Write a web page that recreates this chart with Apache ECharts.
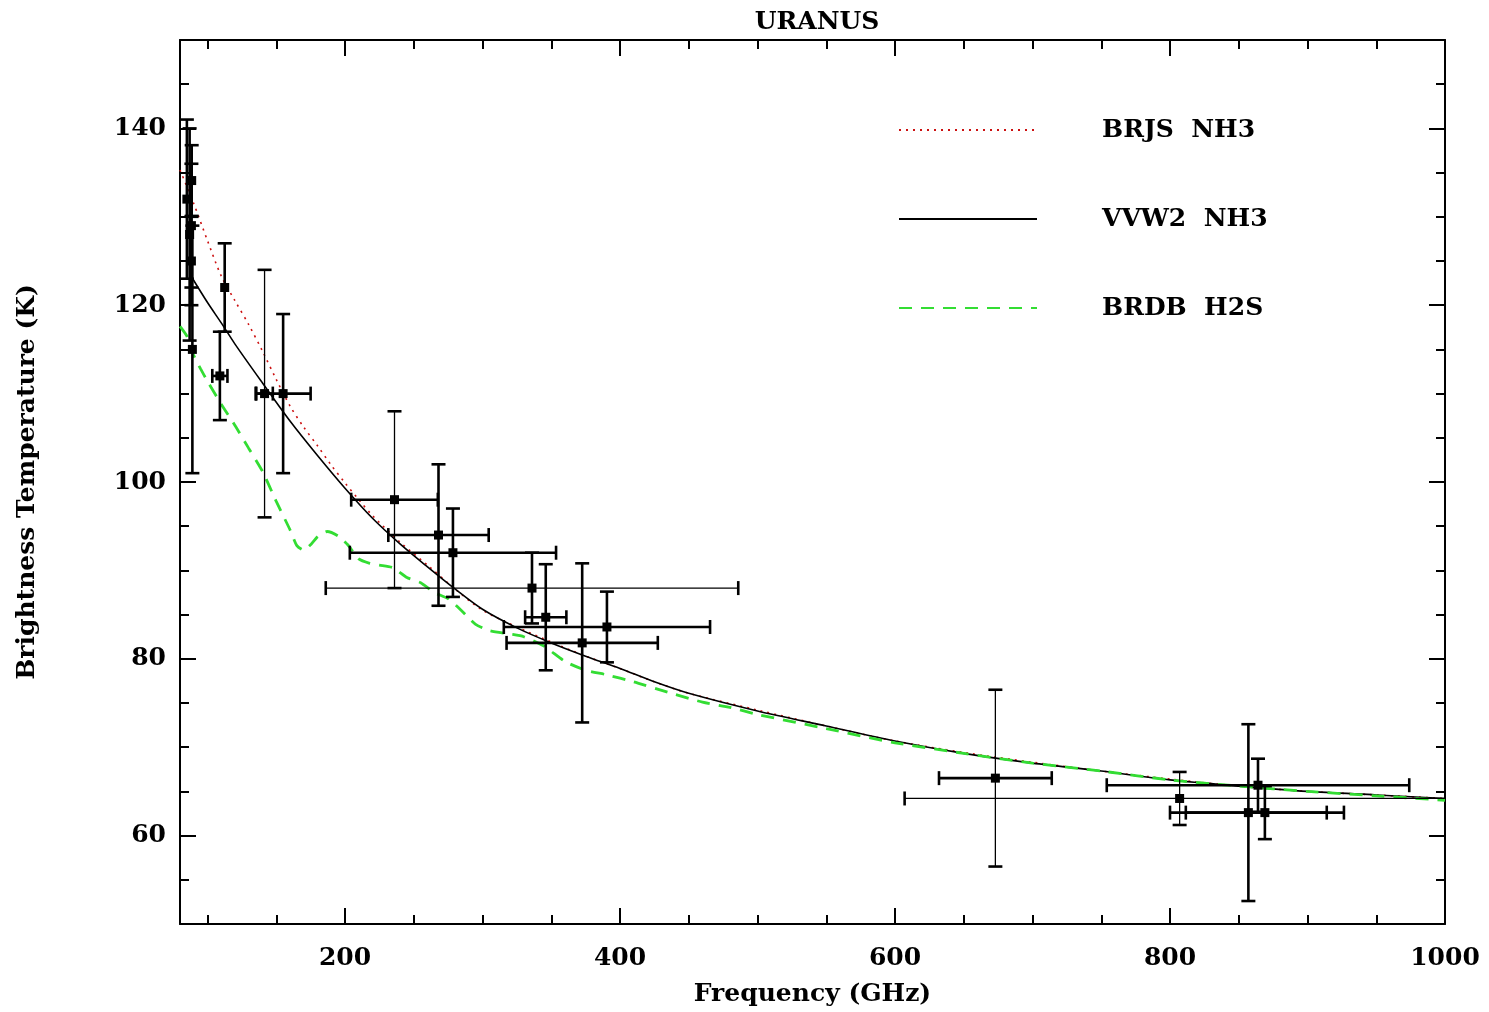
<!DOCTYPE html>
<html>
<head>
<meta charset="utf-8">
<script src="https://cdn.jsdelivr.net/npm/echarts@6/dist/echarts.min.js"></script>
<style>html,body{margin:0;padding:0;background:#fff}#c{width:1489px;height:1012px}</style>
</head>
<body>
<div id="c"></div>
<script>
// ---- data ----
const titleText = 'URANUS';
const xName = 'Frequency (GHz)';
const yName = 'Brightness Temperature (K)';
const xLabelValues = [200, 400, 600, 800, 1000];
const xMinorValues = [100, 150, 250, 300, 350, 450, 500, 550, 650, 700, 750, 850, 900, 950];
const yLabelValues = [60, 80, 100, 120, 140];
const yMinorValues = [55, 65, 70, 75, 85, 90, 95, 105, 110, 115, 125, 130, 135, 145];

const seriesNames = ['BRJS  NH3', 'VVW2  NH3', 'BRDB  H2S'];

const brjsFreq = [80, 90, 100, 110, 120, 130, 140, 150, 160, 170, 180, 190, 200, 210, 220, 240, 260, 280, 300, 325, 350, 375, 400, 425, 450, 500, 550, 600, 650, 700, 750, 800, 850, 900, 950, 1000];
const brjsTemp = [135.3, 131.5, 127.3, 123.3, 120.5, 117.8, 114.8, 111.6, 108.6, 106.2, 104.1, 101.9, 99.9, 98.0, 96.2, 93.2, 90.6, 87.9, 85.5, 83.6, 81.9, 80.3, 78.9, 77.4, 76.1, 74.2, 72.4, 70.7, 69.4, 68.3, 67.3, 66.4, 65.6, 65.0, 64.6, 64.2];

const vvwFreq = [88, 100, 110, 120, 140, 160, 180, 200, 220, 240, 260, 280, 300, 325, 350, 375, 400, 425, 450, 500, 550, 600, 650, 700, 750, 800, 850, 900, 950, 1000];
const vvwTemp = [123.3, 120.3, 118.0, 115.6, 111.2, 106.9, 103.0, 99.3, 95.9, 93.0, 90.4, 87.9, 85.6, 83.5, 81.8, 80.3, 78.9, 77.4, 76.1, 74.1, 72.4, 70.7, 69.3, 68.2, 67.3, 66.3, 65.6, 65.0, 64.6, 64.2];

const brdbFreq = [80, 85, 90, 95, 100, 110, 120, 130, 140, 150, 160, 165, 170, 175, 180, 187, 195, 202, 210, 218, 225, 235, 245, 255, 265, 275, 285, 295, 305, 320, 330, 345, 360, 375, 390, 410, 435, 460, 480, 500, 550, 600, 650, 700, 750, 800, 850, 900, 950, 1000];
const brdbTemp = [117.6, 116.5, 114.3, 112.8, 111.4, 108.8, 106.4, 103.8, 101.2, 97.8, 94.6, 92.8, 92.3, 92.9, 93.8, 94.4, 93.9, 92.9, 91.3, 90.8, 90.6, 90.3, 89.2, 88.6, 87.5, 86.8, 85.4, 83.9, 83.2, 82.8, 82.5, 81.4, 79.7, 78.7, 78.2, 77.4, 76.2, 75.1, 74.5, 73.7, 72.1, 70.5, 69.3, 68.2, 67.3, 66.3, 65.6, 65.0, 64.5, 64.0];

// observations: frequency, temperature, frequency half-width, temperature error
const obsFreq    = [88.5, 85, 88.3, 88.3, 89, 87, 112.5, 109, 141.5, 155, 236, 268, 278.5, 336, 346, 372.5, 390.5, 673, 807, 857, 864, 869];
const obsTemp    = [134.1, 132, 129, 125, 115, 128, 122, 112, 110, 110, 98, 94, 92, 88, 84.7, 81.8, 83.6, 66.5, 64.2, 62.6, 65.7, 62.6];
const obsFreqErr = [0, 0, 0, 0, 0, 0, 0, 5.5, 6, 20, 31.5, 36.5, 75, 150, 15, 55, 75, 41, 200, 57, 110, 57.5];
const obsTempErr = [4, 9, 7, 5, 14, 12, 5, 5, 14, 9, 10, 8, 5, 4, 6, 9, 4, 10, 3, 10, 3, 3];

// ---- style (kept apart from data) ----
const thinV = new Set([8, 10, 17, 18]);
const thinH = new Set([13, 18]);
const FONT = 'DejaVu Serif';
const FW = 'bold';

const zip = (a, b) => a.map((v, i) => [v, b[i]]);
const obsData = obsFreq.map((f, i) => [f, obsTemp[i], obsFreqErr[i], obsTempErr[i]]);

function errRender(params, api) {
  const cs = params.coordSys;
  const f = api.value(0), t = api.value(1), df = api.value(2), dt = api.value(3);
  const c = api.coord([f, t]);
  const idx = params.dataIndex;
  const ch = [];
  const col = '#000';
  const capV = 7, capH = 7;
  const xl = cs.x, xr = cs.x + cs.width, yt = cs.y, yb = cs.y + cs.height;
  if (dt > 0) {
    const top = api.coord([f, t + dt])[1], bot = api.coord([f, t - dt])[1];
    const w = thinV.has(idx) ? 1.3 : 2.6;
    ch.push({type: 'line', shape: {x1: c[0], y1: Math.max(top, yt), x2: c[0], y2: Math.min(bot, yb)}, style: {stroke: col, lineWidth: w}});
    if (top >= yt) ch.push({type: 'line', shape: {x1: c[0] - capV, y1: top, x2: c[0] + capV, y2: top}, style: {stroke: col, lineWidth: 2.6}});
    if (bot <= yb) ch.push({type: 'line', shape: {x1: c[0] - capV, y1: bot, x2: c[0] + capV, y2: bot}, style: {stroke: col, lineWidth: 2.6}});
  }
  if (df > 0) {
    const l = api.coord([f - df, t])[0], r = api.coord([f + df, t])[0];
    const w = thinH.has(idx) ? 1.3 : 2.6;
    ch.push({type: 'line', shape: {x1: Math.max(l, xl), y1: c[1], x2: Math.min(r, xr), y2: c[1]}, style: {stroke: col, lineWidth: w}});
    if (l >= xl) ch.push({type: 'line', shape: {x1: l, y1: c[1] - capH, x2: l, y2: c[1] + capH}, style: {stroke: col, lineWidth: 2.6}});
    if (r <= xr) ch.push({type: 'line', shape: {x1: r, y1: c[1] - capH, x2: r, y2: c[1] + capH}, style: {stroke: col, lineWidth: 2.6}});
  }
  ch.push({type: 'rect', shape: {x: c[0] - 4.5, y: c[1] - 4.5, width: 9, height: 9}, style: {fill: col}});
  return {type: 'group', children: ch};
}

const axisLineStyle = {color: '#000', width: 2};
const fmt = v => String(v);
function xAx(pos, major, labels) {
  return {
    type: 'value', min: 80, max: 1000, position: pos, gridIndex: 0,
    axisLine: {show: major, lineStyle: axisLineStyle, onZero: false},
    axisTick: {show: true, inside: true, length: major ? 16 : 9, customValues: major ? xLabelValues : xMinorValues, lineStyle: {color: '#000', width: 2}},
    axisLabel: labels ? {show: true, customValues: xLabelValues, formatter: fmt, fontFamily: FONT, fontWeight: FW, fontSize: 25, color: '#000', margin: 22} : {show: false},
    splitLine: {show: false},
    name: labels ? xName : '', nameLocation: 'middle', nameGap: 58,
    nameTextStyle: {fontFamily: FONT, fontWeight: FW, fontSize: 25, color: '#000'}
  };
}
function yAx(pos, major, labels) {
  return {
    type: 'value', min: 50, max: 150, position: pos, gridIndex: 0,
    axisLine: {show: major, lineStyle: axisLineStyle, onZero: false},
    axisTick: {show: true, inside: true, length: major ? 16 : 9, customValues: major ? yLabelValues : yMinorValues, lineStyle: {color: '#000', width: 2}},
    axisLabel: labels ? {show: true, customValues: yLabelValues, formatter: fmt, fontFamily: FONT, fontWeight: FW, fontSize: 25, color: '#000', margin: 14} : {show: false},
    splitLine: {show: false},
    name: labels ? yName : '', nameLocation: 'middle', nameGap: 140, nameRotate: 90,
    nameTextStyle: {fontFamily: FONT, fontWeight: FW, fontSize: 25, color: '#000'}
  };
}

const chart = echarts.init(document.getElementById('c'), null, {renderer: 'canvas'});
chart.setOption({
  animation: false,
  backgroundColor: '#fff',
  title: {text: titleText, left: 812, textAlign: 'center', top: 5,
    textStyle: {fontFamily: FONT, fontSize: 25, fontWeight: FW, color: '#000'}},
  grid: {left: 180, right: 44, top: 40, bottom: 80},
  legend: {
    data: seriesNames, orient: 'vertical', left: 893, top: 109,
    itemWidth: 138, itemHeight: 20, itemGap: 57,
    itemStyle: {opacity: 0},
    textStyle: {fontFamily: FONT, fontWeight: FW, fontSize: 25, color: '#000', padding: [0, 0, 0, 60], lineHeight: 32}
  },
  xAxis: [xAx('bottom', true, true), xAx('bottom', false, false), xAx('top', true, false), xAx('top', false, false)],
  yAxis: [yAx('left', true, true), yAx('left', false, false), yAx('right', true, false), yAx('right', false, false)],
  series: [
    {name: seriesNames[0], type: 'line', data: zip(brjsFreq, brjsTemp), symbol: 'none', clip: true, smooth: 0.3,
      color: '#cc1010', lineStyle: {color: '#cc1010', width: 1.6, type: [2, 5]}},
    {name: seriesNames[1], type: 'line', data: zip(vvwFreq, vvwTemp), symbol: 'none', clip: true, smooth: 0.3,
      color: '#000', lineStyle: {color: '#000', width: 1.6, type: 'solid'}},
    {name: seriesNames[2], type: 'line', data: zip(brdbFreq, brdbTemp), symbol: 'none', clip: true, smooth: 0.2,
      color: '#33dd33', lineStyle: {color: '#33dd33', width: 2.8, type: [13, 9]}},
    {name: 'obs', type: 'custom', data: obsData, renderItem: errRender, encode: {x: 0, y: 1},
      dimensions: ['f', 't', 'df', 'dt'], z: 5}
  ]
});
</script>
</body>
</html>
